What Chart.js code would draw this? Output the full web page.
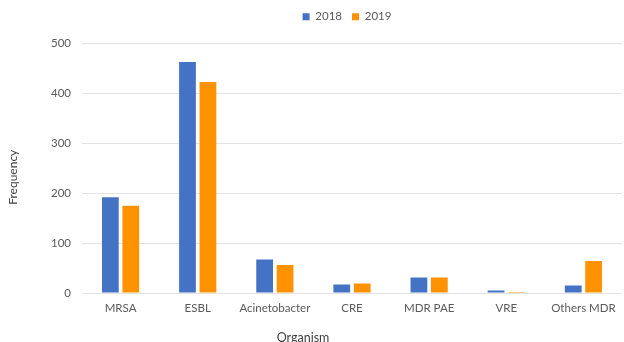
<!DOCTYPE html>
<html>
<head>
<meta charset="utf-8">
<script src="https://cdn.jsdelivr.net/npm/chart.js@4"></script>
<style>
  html, body { margin: 0; padding: 0; background: #fff; }
  #wrap { width: 624px; height: 342px; }
</style>
</head>
<body>
<div id="wrap"><canvas id="graph"></canvas></div>
<script>
// 菌種ごとの検出数
const organisms = ['MRSA', 'ESBL', 'Acinetobacter', 'CRE', 'MDR PAE', 'VRE', 'Others MDR'];
const years = ['2018', '2019'];
const count2018 = [192, 463, 67, 17, 31, 5, 15];
const count2019 = [175, 423, 56, 19, 31, 2, 64];
const yTicks = [0, 100, 200, 300, 400, 500];

const textColor = '#595959';
const fontFamily = 'Lato, "Liberation Sans", sans-serif';

// 軸タイトルの位置をずらす
function shiftTitle(scale, dx, dy) {
    if (scale._shifted) return;
    const draw = scale.drawTitle;
    scale.drawTitle = function() {
        this.ctx.save();
        this.ctx.translate(dx, dy);
        draw.call(this);
        this.ctx.restore();
    };
    scale._shifted = true;
}

// 凡例を少し右に寄せて、上の余白も広げる
const layoutTweak = {
    id: 'layoutTweak',
    beforeInit(chart) {
        const fit = chart.legend.fit;
        chart.legend.fit = function() {
            fit.call(this);
            this.height += 11;
        };
    },
    afterLayout(chart) {
        chart.legend.left += 36;
        chart.legend.right += 36;
        shiftTitle(chart.scales.x, -49, 0);
        shiftTitle(chart.scales.y, 0, 9);
    }
};

const ctx = document.getElementById('graph').getContext('2d');

new Chart(ctx, {
    type: 'bar',
    data: {
        labels: organisms,
        datasets: [{
            label: years[0],
            data: count2018,
            backgroundColor: '#4472C4',
            categoryPercentage: 0.53,
            barPercentage: 0.82
        }, {
            label: years[1],
            data: count2019,
            backgroundColor: '#FF9200',
            categoryPercentage: 0.53,
            barPercentage: 0.82
        }]
    },
    options: {
        responsive: true,
        maintainAspectRatio: false,
        animation: false,
        layout: { padding: { top: 1, right: 2, bottom: 0, left: 0 } },
        plugins: {
            legend: {
                position: 'top',
                labels: {
                    boxWidth: 7,
                    boxHeight: 7,
                    padding: 10,
                    color: textColor,
                    font: { family: fontFamily, size: 11.5 }
                }
            },
            tooltip: { enabled: false }
        },
        scales: {
            x: {
                afterFit(scale) { scale.height = 49; },
                grid: { display: false, drawTicks: false },
                border: { display: false },
                ticks: {
                    color: textColor,
                    padding: 8,
                    maxRotation: 0,
                    font: { family: fontFamily, size: 11.5 }
                },
                title: {
                    display: true,
                    text: 'Organism',
                    color: '#404040',
                    padding: { top: 4, bottom: -3 },
                    font: { family: fontFamily, size: 12.5 }
                }
            },
            y: {
                min: 0,
                max: 500,
                afterFit(scale) { scale.width = 82; },
                afterBuildTicks(scale) {
                    scale.ticks = yTicks.map(v => ({ value: v }));
                },
                grid: { color: '#e3e3e3', drawTicks: false },
                border: { display: false },
                ticks: {
                    color: textColor,
                    padding: 11,
                    font: { family: fontFamily, size: 11.5 }
                },
                title: {
                    display: true,
                    text: 'Frequency',
                    color: '#404040',
                    padding: { top: 6, bottom: 0 },
                    font: { family: fontFamily, size: 12 }
                }
            }
        }
    },
    plugins: [layoutTweak]
});
</script>
</body>
</html>
